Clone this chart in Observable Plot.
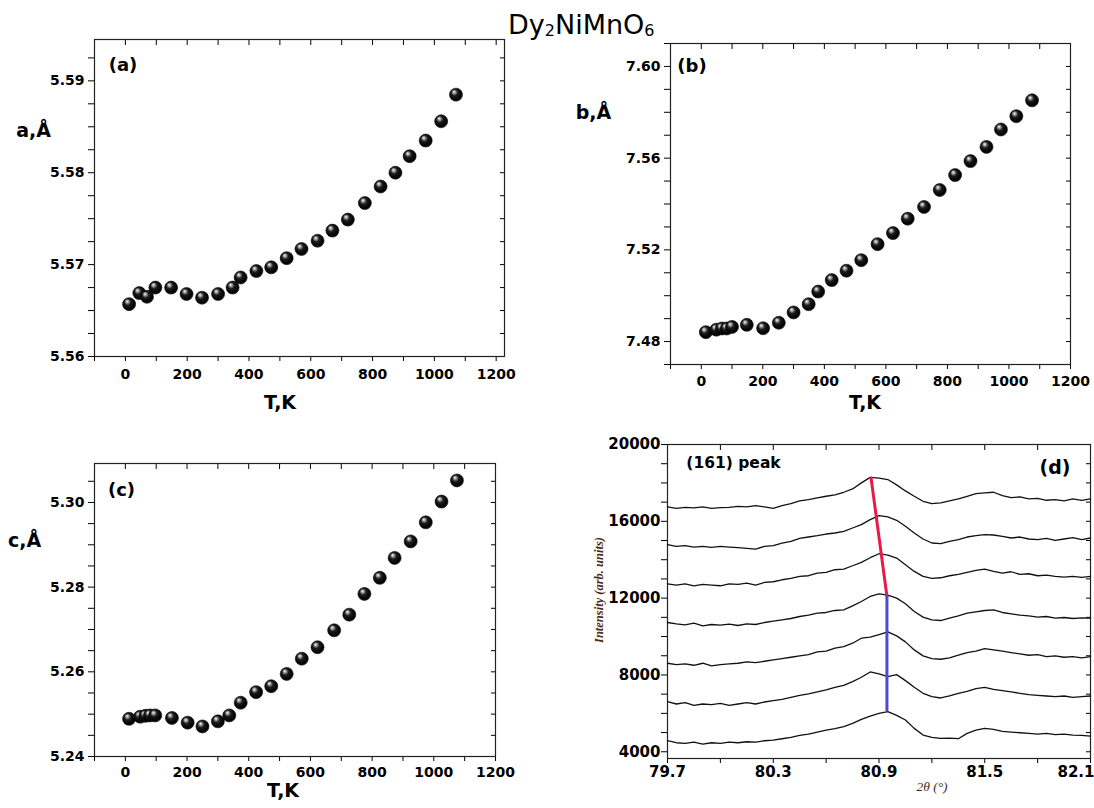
<!DOCTYPE html>
<html><head><meta charset="utf-8">
<script src="https://cdn.jsdelivr.net/npm/d3@7"></script>
<script src="https://cdn.jsdelivr.net/npm/@observablehq/plot@0.6"></script>
<style>
html,body{margin:0;padding:0;background:#fff;overflow:hidden;}
#root{position:relative;width:1094px;height:808px;overflow:hidden;}
.panel{position:absolute;}
.lbl{position:absolute;transform:translate(-50%,-50%);white-space:nowrap;font-family:"DejaVu Sans",sans-serif;font-weight:bold;color:#000;line-height:1;}
.title{position:absolute;left:508px;top:11px;font-family:"DejaVu Sans",sans-serif;font-size:27px;line-height:1;color:#000;white-space:nowrap;}
.title span{font-size:16px;position:relative;top:2px;}
.serif{font-family:"Liberation Serif","Times New Roman",serif;font-style:italic;color:#4a2c1a;}
</style></head><body><div id="root"></div>
<script>
// ---------- Panel (a): lattice parameter a vs T ----------
const tempA = [12, 45, 70, 97, 148, 198, 248, 300, 347, 373, 424, 472, 522, 570, 622, 670, 720, 775, 826, 874, 920, 972, 1022, 1070];
const aVals = [5.5657, 5.5669, 5.5665, 5.5675, 5.5675, 5.5668, 5.5664, 5.5668, 5.5675, 5.5686, 5.5693, 5.5697, 5.5707, 5.5717, 5.5726, 5.5737, 5.5749, 5.5767, 5.5785, 5.5800, 5.5818, 5.5835, 5.5856, 5.5885];
// ---------- Panel (b) ----------
const tempB = [15, 49, 67, 83, 100, 148, 201, 252, 300, 349, 380, 424, 472, 520, 573, 623, 671, 724, 775, 825, 875, 927, 974, 1024, 1075];
const bVals = [7.4841, 7.4852, 7.4857, 7.4857, 7.4864, 7.4873, 7.4858, 7.4882, 7.4927, 7.4963, 7.5018, 7.5068, 7.5109, 7.5155, 7.5225, 7.5273, 7.5336, 7.5387, 7.5461, 7.5526, 7.5587, 7.5649, 7.5725, 7.5783, 7.5852];
// ---------- Panel (c) ----------
const tempC = [12, 48, 65, 80, 97, 151, 202, 250, 300, 337, 374, 424, 473, 523, 572, 623, 677, 726, 775, 825, 873, 925, 974, 1025, 1075];
const cVals = [5.2489, 5.2494, 5.2496, 5.2497, 5.2497, 5.2491, 5.2480, 5.2471, 5.2483, 5.2497, 5.2527, 5.2552, 5.2566, 5.2595, 5.2631, 5.2658, 5.2698, 5.2735, 5.2784, 5.2822, 5.2869, 5.2908, 5.2953, 5.3002, 5.3052];

// tick arrays
const tTicks = [-100, 0, 100, 200, 300, 400, 500, 600, 700, 800, 900, 1000, 1100, 1200];
const tLabels = [0, 200, 400, 600, 800, 1000, 1200];
const aTicks = [5.56, 5.5625, 5.565, 5.5675, 5.57, 5.5725, 5.575, 5.5775, 5.58, 5.5825, 5.585, 5.5875, 5.59, 5.5925];
const aLabels = [5.56, 5.57, 5.58, 5.59];
const bTicks = [7.47, 7.48, 7.49, 7.50, 7.51, 7.52, 7.53, 7.54, 7.55, 7.56, 7.57, 7.58, 7.59, 7.60, 7.61];
const bLabels = [7.48, 7.52, 7.56, 7.60];
const cTicks = [5.24, 5.245, 5.25, 5.255, 5.26, 5.265, 5.27, 5.275, 5.28, 5.285, 5.29, 5.295, 5.30, 5.305];
const cLabels = [5.24, 5.26, 5.28, 5.30];

// ---------- Panel (d): XRD (161) peak scans ----------
const twoTheta = [79.70, 79.75, 79.80, 79.85, 79.90, 79.95, 80.00, 80.05, 80.10, 80.15, 80.20, 80.25, 80.30, 80.35, 80.40, 80.45, 80.50, 80.55, 80.60, 80.65, 80.70, 80.75, 80.80, 80.85, 80.90, 80.95, 81.00, 81.05, 81.10, 81.15, 81.20, 81.25, 81.30, 81.35, 81.40, 81.45, 81.50, 81.55, 81.60, 81.65, 81.70, 81.75, 81.80, 81.85, 81.90, 81.95, 82.00, 82.05, 82.10];
const scan1 = [16748, 16679, 16731, 16696, 16748, 16679, 16713, 16731, 16783, 16748, 16818, 16748, 16679, 16818, 16922, 17061, 17131, 17218, 17305, 17374, 17513, 17687, 18000, 18290, 18250, 18174, 17896, 17583, 17305, 17044, 16922, 16957, 17061, 17165, 17305, 17444, 17478, 17513, 17339, 17235, 17270, 17165, 17200, 17096, 17131, 17061, 17165, 17096, 17165];
const scan2 = [14783, 14696, 14731, 14661, 14696, 14644, 14696, 14661, 14626, 14592, 14557, 14696, 14731, 14870, 14957, 15113, 15183, 15253, 15339, 15392, 15479, 15652, 15826, 16087, 16296, 16226, 16052, 15739, 15392, 15079, 14870, 14835, 14957, 15044, 15183, 15253, 15305, 15287, 15218, 15131, 15183, 15079, 15044, 15113, 15009, 15079, 15148, 15044, 15131];
const scan3 = [12748, 12679, 12748, 12644, 12714, 12679, 12644, 12748, 12714, 12783, 12679, 12818, 12853, 12957, 13027, 13131, 13166, 13305, 13340, 13479, 13514, 13687, 13861, 14105, 14313, 14244, 14087, 13740, 13392, 13131, 13027, 13061, 13166, 13235, 13340, 13444, 13514, 13392, 13305, 13374, 13235, 13270, 13166, 13201, 13131, 13096, 13131, 13079, 13131];
const scan4 = [10731, 10662, 10609, 10696, 10557, 10627, 10592, 10644, 10575, 10662, 10627, 10731, 10801, 10870, 10940, 11044, 11114, 11218, 11253, 11357, 11392, 11601, 11827, 12088, 12227, 12157, 12001, 11705, 11305, 11009, 10870, 10835, 10957, 11079, 11218, 11288, 11357, 11392, 11253, 11183, 11114, 11079, 11009, 11044, 10957, 10992, 10940, 10975, 10957];
const scan5 = [8610, 8540, 8575, 8505, 8610, 8470, 8540, 8575, 8610, 8679, 8644, 8714, 8783, 8853, 8923, 8992, 9062, 9201, 9236, 9392, 9479, 9653, 9914, 9966, 10105, 10244, 10036, 9723, 9305, 8992, 8853, 8818, 8888, 9027, 9166, 9236, 9375, 9305, 9236, 9166, 9096, 9027, 9062, 8957, 8992, 8923, 8957, 8888, 8957];
const scan6 = [6610, 6488, 6558, 6418, 6488, 6453, 6523, 6418, 6488, 6558, 6488, 6592, 6662, 6732, 6836, 6940, 7010, 7114, 7218, 7357, 7462, 7653, 7879, 8157, 8053, 7914, 8018, 7705, 7357, 7044, 6871, 6801, 6905, 7044, 7149, 7288, 7357, 7253, 7184, 7114, 7044, 6975, 6940, 6905, 6871, 6905, 6836, 6871, 6905];
const scan7 = [4575, 4471, 4436, 4506, 4401, 4471, 4436, 4506, 4471, 4523, 4506, 4575, 4610, 4679, 4749, 4853, 4923, 5027, 5132, 5201, 5305, 5479, 5688, 5862, 6001, 6088, 5897, 5653, 5218, 4871, 4749, 4697, 4714, 4680, 4958, 5132, 5218, 5166, 5062, 5027, 4992, 4958, 4923, 4958, 4888, 4923, 4871, 4853, 4819];
const redX = [80.855, 80.945];
const redY = [18260, 12090];
const blueX = [80.945, 80.945];
const blueY = [12090, 6180];
const dXTicks = [79.7, 80.0, 80.3, 80.6, 80.9, 81.2, 81.5, 81.8, 82.1];
const dXLabels = [79.7, 80.3, 80.9, 81.5];
const dXEdgeLabel = [82.1];
const dYTicks = [4000, 5000, 6000, 7000, 8000, 9000, 10000, 11000, 12000, 13000, 14000, 15000, 16000, 17000, 18000, 19000, 20000];
const dYLabels = [4000, 8000, 12000, 16000, 20000];

const root = document.getElementById("root");
const has = (arr, d) => arr.some(m => Math.abs(m - d) < 1e-9);

function sphereDefs(id) {
  return () => {
    const g = document.createElementNS("http://www.w3.org/2000/svg", "defs");
    g.innerHTML = `<radialGradient id="${id}" cx="0.45" cy="0.42" r="0.6" fx="0.34" fy="0.28">
      <stop offset="0" stop-color="#ffffff"/>
      <stop offset="0.16" stop-color="#a8a8a8"/>
      <stop offset="0.42" stop-color="#1c1c1c"/>
      <stop offset="0.85" stop-color="#000000"/>
      <stop offset="1" stop-color="#2e2e2e"/>
    </radialGradient>`;
    return g;
  };
}

function axes(xTicks, xLabels, xFmt, yTicks, yLabels, yFmt, opt) {
  return [
    Plot.axisX({anchor: "bottom", ticks: xTicks, tickSize: 5, tickPadding: opt.xPad, label: null,
      tickFormat: d => has(xLabels, d) ? xFmt(d) : "", fontSize: opt.fs, fontWeight: "bold"}),
    Plot.axisX({anchor: "top", ticks: xTicks, tickSize: -5, label: null, tickFormat: () => ""}),
    Plot.axisY({anchor: "left", ticks: yTicks, tickSize: 6, tickPadding: opt.yPad, label: null,
      tickFormat: d => has(yLabels, d) ? yFmt(d) : "", fontSize: opt.fs, fontWeight: "bold"}),
    Plot.axisY({anchor: "right", ticks: yTicks, tickSize: -5, label: null, tickFormat: () => ""}),
    Plot.frame({stroke: "#222", strokeWidth: 1.2})
  ];
}

function panel(left, top, plot) {
  const d = document.createElement("div");
  d.className = "panel";
  d.style.left = left + "px";
  d.style.top = top + "px";
  d.appendChild(plot);
  root.appendChild(d);
}

const baseStyle = {fontFamily: "DejaVu Sans, sans-serif", fontSize: "14px", fontWeight: "bold", color: "#000", background: "transparent", overflow: "visible"};
const f2 = d3.format(".2f");
const fd = d3.format("d");

function latticePlot(id, temps, vals, yDomain, yTicks, yLabels, w, h, m, xDomain, xPad, yPad) {
  const rows = temps.map((t, i) => ({t, v: vals[i]}));
  return Plot.plot({
    width: w, height: h,
    marginLeft: m[0], marginRight: m[1], marginTop: m[2], marginBottom: m[3],
    style: baseStyle,
    x: {domain: xDomain},
    y: {domain: yDomain},
    marks: [
      sphereDefs(id),
      ...axes(tTicks, tLabels, fd, yTicks, yLabels, f2, {xPad, yPad, fs: 14}),
      Plot.dot(rows, {x: "t", y: "v", r: 6.5, fill: `url(#${id})`, stroke: "#000", strokeWidth: 0.6})
    ]
  });
}

panel(0, 0, latticePlot("sphA", tempA, aVals, [5.56, 5.5945], aTicks, aLabels, 547, 420, [94, 43, 39, 64], [-100, 1227], 8, 4));
panel(547, 0, latticePlot("sphB", tempB, bVals, [7.47, 7.61], bTicks, bLabels, 547, 420, [123, 24, 43, 56], [-100, 1200], 7, 4));
panel(0, 420, latticePlot("sphC", tempC, cVals, [5.24, 5.3092], cTicks, cLabels, 547, 388, [94, 52, 43, 52], [-100, 1200], 6, 4));

// panel (d)
const scans = [scan1, scan2, scan3, scan4, scan5, scan6, scan7];
const xrdRows = scans.flatMap((vals, k) => vals.map((v, j) => ({tt: twoTheta[j], I: v, scan: k})));
const redRows = redX.map((x, i) => ({tt: x, I: redY[i]}));
const blueRows = blueX.map((x, i) => ({tt: x, I: blueY[i]}));
panel(547, 420, Plot.plot({
  width: 547, height: 388,
  marginLeft: 120, marginRight: 4, marginTop: 24, marginBottom: 50,
  style: {...baseStyle, fontSize: "15px"},
  x: {domain: [79.7, 82.1]},
  y: {domain: [3650, 20000]},
  marks: [
    ...axes(dXTicks, dXLabels, d3.format(".1f"), dYTicks, dYLabels, fd, {xPad: 3, yPad: 1, fs: 15}),
    Plot.axisX({anchor: "bottom", ticks: dXEdgeLabel, tickSize: 0, tickPadding: 8, label: null,
      tickFormat: d3.format(".1f"), textAnchor: "end", dx: 4, fontSize: 15, fontWeight: "bold"}),
    Plot.line(xrdRows, {x: "tt", y: "I", z: "scan", stroke: "#111", strokeWidth: 1.3}),
    Plot.line(redRows, {x: "tt", y: "I", stroke: "#e8194a", strokeWidth: 3}),
    Plot.line(blueRows, {x: "tt", y: "I", stroke: "#4b4bd6", strokeWidth: 3})
  ]
}));

// text labels
function label(text, x, y, size, extra) {
  const d = document.createElement("div");
  d.className = "lbl" + (extra && extra.cls ? " " + extra.cls : "");
  d.textContent = text;
  d.style.left = x + "px";
  d.style.top = y + "px";
  d.style.fontSize = size + "px";
  if (extra && extra.rotate) d.style.transform = "translate(-50%,-50%) rotate(-90deg)";
  if (extra && extra.weight) d.style.fontWeight = extra.weight;
  root.appendChild(d);
}
label("a,Å", 33.5, 130, 19);
label("(a)", 123, 65, 18);
label("T,K", 280, 401.5, 19);
label("b,Å", 593.5, 112, 19);
label("(b)", 692, 66, 18);
label("T,K", 865, 401.5, 19);
label("c,Å", 24.5, 540, 19);
label("(c)", 121.5, 490, 18);
label("T,K", 283, 790, 19);
label("(161) peak", 733.5, 463.5, 15.5);
label("(d)", 1055, 467, 19);
label("Intensity (arb. units)", 599, 590, 12.5, {cls: "serif", rotate: true});
label("2θ (°)", 932, 787, 13.5, {cls: "serif", weight: "normal"});

const t = document.createElement("div");
t.className = "title";
t.innerHTML = "Dy<span>2</span>NiMnO<span>6</span>";
root.appendChild(t);
</script>
</body></html>
